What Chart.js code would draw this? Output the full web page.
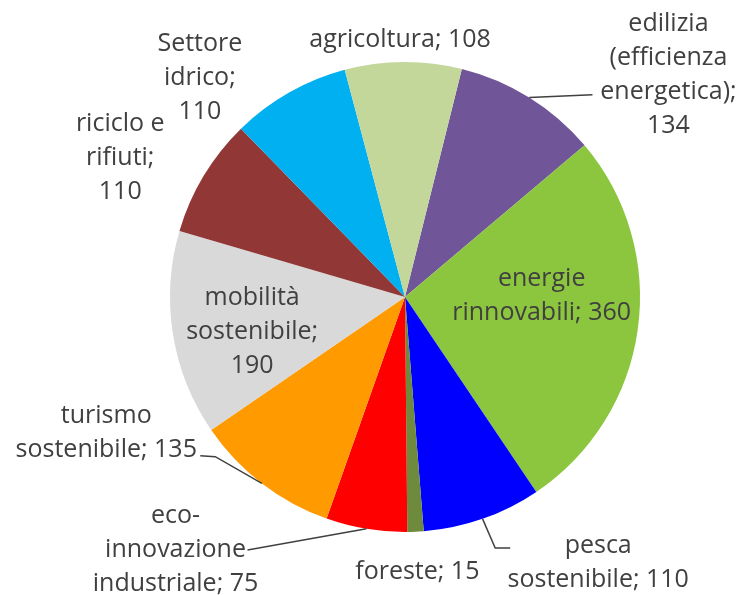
<!DOCTYPE html>
<html>
<head>
<meta charset="utf-8">
<script src="https://cdn.jsdelivr.net/npm/chart.js@4/dist/chart.umd.min.js"></script>
<style>
  body { margin: 0; background: #fff; }
  canvas { display: block; }
</style>
</head>
<body>
<canvas id="pie" width="740" height="595"></canvas>
<script>
// data, clockwise from the slice just right of the top
const categories = ['edilizia (efficienza energetica)', 'energie rinnovabili', 'pesca sostenibile', 'foreste',
    'eco-innovazione industriale', 'turismo sostenibile', 'mobilità sostenibile', 'riciclo e rifiuti',
    'Settore idrico', 'agricoltura'];
const values = [134, 360, 110, 15, 75, 135, 190, 110, 110, 108];
const colors = ['#705598', '#8CC63E', '#0000FF', '#6E8B3D', '#FF0000', '#FF9A00', '#D9D9D9', '#913735', '#00B0F0', '#C4D79B'];

// how each label is wrapped (value goes on its own line when valueBreak is true)
const labelNames = ['edilizia\n(efficienza\nenergetica)', 'energie\nrinnovabili', 'pesca\nsostenibile', 'foreste',
    'eco-\ninnovazione\nindustriale', 'turismo\nsostenibile', 'mobilità\nsostenibile', 'riciclo e\nrifiuti',
    'Settore\nidrico', 'agricoltura'];
const valueBreak = [true, false, false, false, false, false, true, true, true, false];

// label placement: k = distance along the slice's mid angle (x radius), then a pixel nudge
// leader = points relative to the label centre, drawn from the slice edge
const labelLayout = [
    { k: 1.3, dx: 102, dy: 37, leader: [[-76, 20]] },
    { k: 0.6, dx: -3, dy: -21 },
    { k: 1.15, dx: 104, dy: 11, leader: [[-103, -15], [-88, -15]] },
    { k: 1.17, dx: 0, dy: 0 },
    { k: 1.1, dx: -187, dy: -2, leader: [[72, 0]] },
    { k: 1.2, dx: -127, dy: -88, leader: [[109, 24], [94, 23]] },
    { k: 0.65, dx: -2, dy: 11 },
    { k: 1.3, dx: -23, dy: 18 },
    { k: 1.2, dx: -66, dy: 26 },
    { k: 1.09, dx: -3, dy: -1 }
];

const sliceLabels = {
    id: 'sliceLabels',
    afterDatasetsDraw(chart) {
        const ctx = chart.ctx;
        const arcs = chart.getDatasetMeta(0).data;
        ctx.save();
        ctx.font = '25px "Open Sans"';
        ctx.fillStyle = '#404040';
        ctx.strokeStyle = '#404040';
        ctx.lineWidth = 1.5;
        ctx.textAlign = 'center';
        ctx.textBaseline = 'middle';
        arcs.forEach((arc, i) => {
            const p = arc.getProps(['x', 'y', 'startAngle', 'endAngle', 'outerRadius'], true);
            const mid = (p.startAngle + p.endAngle) / 2;
            const L = labelLayout[i];
            const bx = p.x + Math.cos(mid) * p.outerRadius * L.k + L.dx;
            const by = p.y + Math.sin(mid) * p.outerRadius * L.k + L.dy;
            if (L.leader) {
                ctx.beginPath();
                ctx.moveTo(p.x + Math.cos(mid) * p.outerRadius, p.y + Math.sin(mid) * p.outerRadius);
                L.leader.forEach(pt => ctx.lineTo(bx + pt[0], by + pt[1]));
                ctx.stroke();
            }
            const text = labelNames[i] + ';' + (valueBreak[i] ? '\n' : ' ') + values[i];
            const lines = text.split('\n');
            const lh = 34;
            lines.forEach((t, j) => {
                ctx.fillText(t, bx, by + (j - (lines.length - 1) / 2) * lh);
            });
        });
        ctx.restore();
    }
};

new Chart(document.getElementById('pie').getContext('2d'), {
    type: 'pie',
    data: {
        labels: categories,
        datasets: [{
            data: values,
            backgroundColor: colors,
            borderWidth: 0
        }]
    },
    options: {
        responsive: false,
        animation: false,
        rotation: 14,
        layout: { padding: { left: 170, right: 100, top: 62, bottom: 63 } },
        plugins: {
            legend: { display: false },
            tooltip: { enabled: false }
        }
    },
    plugins: [sliceLabels]
});
</script>
</body>
</html>
